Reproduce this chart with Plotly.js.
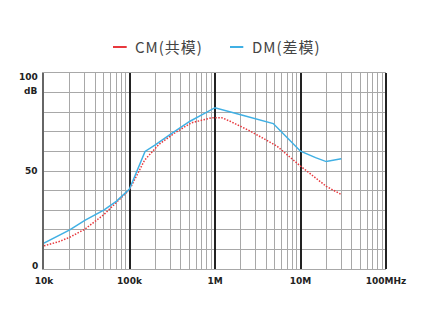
<!DOCTYPE html>
<html>
<head>
<meta charset="utf-8">
<script src="https://cdn.plot.ly/plotly-3.0.1.min.js"></script>
<style>
html,body{margin:0;padding:0;background:#fff;}
#chart{width:431px;height:310px;}
</style>
</head>
<body>
<div id="chart"></div>
<script>
// ---- data ----
var seriesNames = ['CM(共模)', 'DM(差模)'];

var freqCM = [1e4, 1.5e4, 2e4, 3e4, 5e4, 7e4, 1e5, 1.5e5, 2.2e5, 3.4e5, 5.3e5, 9e5, 1.2e6, 1.5e6, 2.6e6, 5.3e6, 1e7, 2e7, 3e7];
var valCM  = [11.8, 14, 16.2, 20.3, 27.7, 33.7, 40.5, 55.5, 63.5, 69.5, 74.6, 77.1, 77.2, 75.4, 70.3, 62.7, 52.5, 42.2, 38];

var freqDM = [1e4, 2e4, 3e4, 5e4, 7e4, 1e5, 1.52e5, 2e5, 3e5, 5.1e5, 7e5, 1e6, 2e6, 3e6, 4.8e6, 7e6, 1e7, 1.5e7, 2e7, 3e7];
var valDM  = [13.2, 20, 24.8, 30, 34.5, 40.8, 60, 63.3, 68.7, 75.4, 78.6, 82.3, 78.7, 76.6, 74.2, 67, 60.1, 56.8, 54.8, 56.2];

var xMajorVals = [1e4, 1e5, 1e6, 1e7, 1e8];
var xMajorText = ['10k', '100k', '1M', '10M', '100MHz'];
var yLabelVals = [0, 50, 100];
var yLabelText = ['0', '50', '100'];
var yUnit = 'dB';

var colors = ['#e8383d', '#40b0e4'];

// minor grid values 2..9 per decade
var xMinorVals = [];
for (var d = 4; d < 8; d++) {
  for (var m = 2; m <= 9; m++) xMinorVals.push(m * Math.pow(10, d));
}

var traces = [
  {x: freqCM, y: valCM, name: seriesNames[0], type: 'scatter', mode: 'lines',
   line: {color: colors[0], width: 1.5, dash: '1.5px,1.5px'}, xaxis: 'x', yaxis: 'y', hoverinfo: 'none'},
  {x: freqDM, y: valDM, name: seriesNames[1], type: 'scatter', mode: 'lines',
   line: {color: colors[1], width: 1.5}, xaxis: 'x', yaxis: 'y', hoverinfo: 'none'}
];

var tickFont = {family: 'DejaVu Sans', size: 9, color: '#222', weight: 700};

var annotations = [];
var yShift = {0: 3.5, 50: 0, 100: -3.5};
yLabelVals.forEach(function (v, i) {
  annotations.push({xref: 'paper', yref: 'y', x: 0, y: v, xanchor: 'right', yanchor: 'middle',
    xshift: -4, yshift: yShift[v], text: yLabelText[i], showarrow: false, font: tickFont});
});
annotations.push({xref: 'paper', yref: 'y', x: 0, y: 100, xanchor: 'right', yanchor: 'middle',
  xshift: -5, yshift: -17.5, text: yUnit, showarrow: false, font: tickFont});

// custom legend
var legY = (269 - 47) / 196;
var legLines = [[(113 - 44) / 342, (126.7 - 44) / 342], [(230 - 44) / 342, (243.3 - 44) / 342]];
var legTextX = [(133 - 44) / 342, (250 - 44) / 342];
var shapes = [];
seriesNames.forEach(function (n, i) {
  shapes.push({type: 'line', xref: 'paper', yref: 'paper', x0: legLines[i][0], x1: legLines[i][1],
    y0: legY, y1: legY, line: {color: colors[i], width: 2}});
  annotations.push({xref: 'paper', yref: 'paper', x: legTextX[i], y: legY, xanchor: 'left', yanchor: 'middle',
    text: n, showarrow: false, font: {family: 'Noto Sans CJK SC', size: 15, color: '#444'}});
});
// right frame edge (100MHz decade line)
shapes.push({type: 'line', xref: 'paper', yref: 'paper', x0: 1, x1: 1, y0: 0, y1: 1,
  line: {color: '#222', width: 2}, layer: 'above'});

var layout = {
  width: 431, height: 310,
  margin: {l: 44, r: 45, t: 73, b: 41, pad: 0},
  paper_bgcolor: '#fff', plot_bgcolor: '#fff',
  showlegend: false,
  xaxis: {type: 'log', range: [4, 8], tickvals: xMinorVals, showticklabels: false,
    showgrid: true, gridcolor: '#a8a8a8', gridwidth: 1, zeroline: false,
    showline: true, mirror: true, linecolor: '#a8a8a8', linewidth: 1, ticks: ''},
  xaxis2: {type: 'log', range: [4, 8], overlaying: 'x', anchor: 'y', side: 'bottom',
    tickvals: xMajorVals, ticktext: xMajorText, showgrid: true, gridcolor: '#222', gridwidth: 2,
    zeroline: false, showline: false, ticks: '', tickfont: tickFont, ticklabelstandoff: 5},
  yaxis: {range: [0, 100], dtick: 10, tick0: 0, showticklabels: false, showgrid: true,
    gridcolor: '#a8a8a8', gridwidth: 1, zeroline: false, showline: true, linecolor: '#666',
    linewidth: 2, ticks: ''},
  shapes: shapes,
  annotations: annotations
};

// dummy trace to activate xaxis2
traces.push({x: [1e4, 1e8], y: [null, null], xaxis: 'x2', yaxis: 'y', type: 'scatter', mode: 'lines',
  showlegend: false, hoverinfo: 'none'});

Plotly.newPlot('chart', traces, layout, {staticPlot: true, displayModeBar: false}).then(function () {
  var items = document.querySelectorAll('.annotation-text');
  items.forEach(function (t) {
    if (seriesNames.indexOf(t.textContent) >= 0) {
      var before = t.getBBox().x;
      t.style.letterSpacing = '1px';
      var after = t.getBBox().x;
      var x0 = parseFloat(t.getAttribute('x')) || 0;
      t.setAttribute('x', x0 + (before - after));
    }
  });
});
</script>
</body>
</html>
